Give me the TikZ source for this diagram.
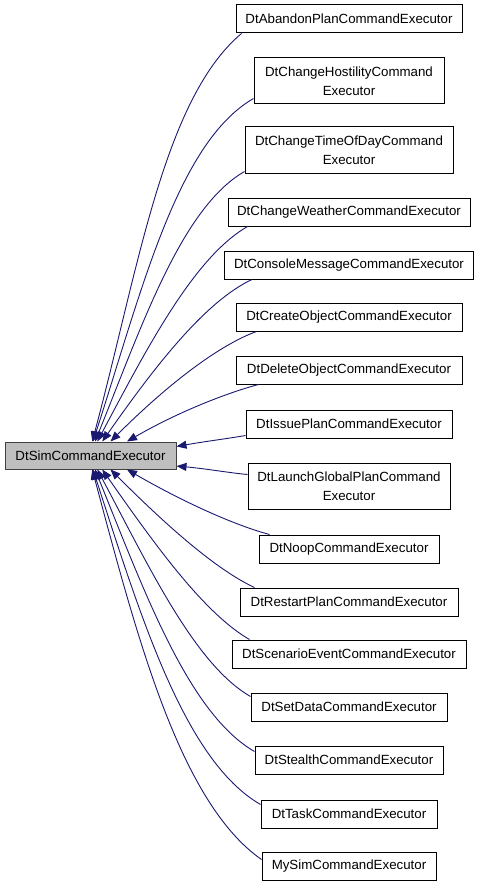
\documentclass[tikz,border=0pt]{standalone}
\usepackage{fontspec}
\setmainfont{Liberation Sans}
\usetikzlibrary{arrows.meta}

\definecolor{midnight}{RGB}{25,25,112}
\definecolor{basegray}{RGB}{191,191,191}

\begin{document}
\begin{tikzpicture}[%
        x = 1pt,
        y = 1pt,
        font = \fontsize{13.3}{18.5}\selectfont,
        cls/.style = {%
            draw = black,
            line width = 1pt,
            fill = white,
            inner xsep = 2pt,
            minimum height = 28pt
        },
        cls2/.style = {cls, align = center, minimum height = 46pt},
        baseclass/.style = {cls, fill = basegray, draw = black!75, minimum height = 27pt},
        inherit/.style = {%
            draw = midnight,
            line width = 0.9pt,
            -{Triangle[length = 10pt, width = 8pt]},
            out looseness = 0.6,
            in looseness = 1.05
        }
    ]

        % Fix the size of the page.
        \useasboundingbox (0, 0) rectangle (480, -888);

        % The base class on the left.
        \node[baseclass, minimum width = 171pt] (sim) at (90.5, -455.5) {DtSimCommandExecutor};

        % The derived classes, one column on the right.
        \node[cls, minimum width = 226pt] (abandon) at (349, -19) {DtAbandonPlanCommandExecutor};
        \node[cls2, minimum width = 190pt] (hostility) at (349, -81) {DtChangeHostilityCommand\\Executor};
        \node[cls2, minimum width = 208pt] (timeofday) at (349, -150) {DtChangeTimeOfDayCommand\\Executor};
        \node[cls, minimum width = 242pt] (weather) at (349, -212) {DtChangeWeatherCommandExecutor};
        \node[cls, minimum width = 249pt] (console) at (349, -265) {DtConsoleMessageCommandExecutor};
        \node[cls, minimum width = 226pt] (create) at (349, -317) {DtCreateObjectCommandExecutor};
        \node[cls, minimum width = 226pt] (delete) at (349, -370) {DtDeleteObjectCommandExecutor};
        \node[cls, minimum width = 206pt] (issue) at (349, -424) {DtIssuePlanCommandExecutor};
        \node[cls2, minimum width = 202pt] (launch) at (349, -486) {DtLaunchGlobalPlanCommand\\Executor};
        \node[cls, minimum width = 180pt] (noop) at (349, -549) {DtNoopCommandExecutor};
        \node[cls, minimum width = 218pt] (restart) at (349, -602) {DtRestartPlanCommandExecutor};
        \node[cls, minimum width = 234pt] (scenario) at (349, -654) {DtScenarioEventCommandExecutor};
        \node[cls, minimum width = 196pt] (setdata) at (349, -707) {DtSetDataCommandExecutor};
        \node[cls, minimum width = 188pt] (stealth) at (349, -760) {DtStealthCommandExecutor};
        \node[cls, minimum width = 176pt] (task) at (349, -814) {DtTaskCommandExecutor};
        \node[cls, minimum width = 174pt] (mysim) at (349, -866) {MySimCommandExecutor};

        % Inheritance arrows from the upper classes.
        \draw[inherit] ([xshift = 6pt]abandon.south west) to[out = 220, in = 75] (sim.83);
        \draw[inherit] ([yshift = 6pt]hostility.south west) to[out = 210, in = 72] (sim.80);
        \draw[inherit] ([yshift = 2pt]timeofday.south west) to[out = 210, in = 68] (sim.72);
        \draw[inherit] ([xshift = 20pt]weather.south west) to[out = 210, in = 62] (sim.64);
        \draw[inherit] ([xshift = 28pt]console.south west) to[out = 205, in = 55] (sim.50);
        \draw[inherit] ([xshift = 21pt]create.south west) to[out = 200, in = 45] (sim.35);
        \draw[inherit] ([xshift = 23pt]delete.south west) to[out = 195, in = 30] (sim.21);

        % Arrows into the right side of the base class.
        \draw[inherit] ([yshift = 3pt]issue.south west) to[out = 190, in = 10] (sim.6);
        \draw[inherit] ([yshift = -12pt]launch.north west) to[out = 175, in = -5] (sim.-7);

        % Inheritance arrows from the lower classes.
        \draw[inherit] ([xshift = 11pt]noop.north west) to[out = 165, in = -30] (sim.-21);
        \draw[inherit] ([xshift = 15pt]restart.north west) to[out = 155, in = -45] (sim.-35);
        \draw[inherit] ([xshift = 18pt]scenario.north west) to[out = 150, in = -55] (sim.-50);
        \draw[inherit] ([yshift = -4pt]setdata.north west) to[out = 150, in = -62] (sim.-64);
        \draw[inherit] ([yshift = -6pt]stealth.north west) to[out = 150, in = -68] (sim.-72);
        \draw[inherit] ([yshift = -5pt]task.north west) to[out = 150, in = -72] (sim.-80);
        \draw[inherit] ([yshift = -8pt]mysim.north west) to[out = 145, in = -75] (sim.-83);
    \end{tikzpicture}
\end{document}
